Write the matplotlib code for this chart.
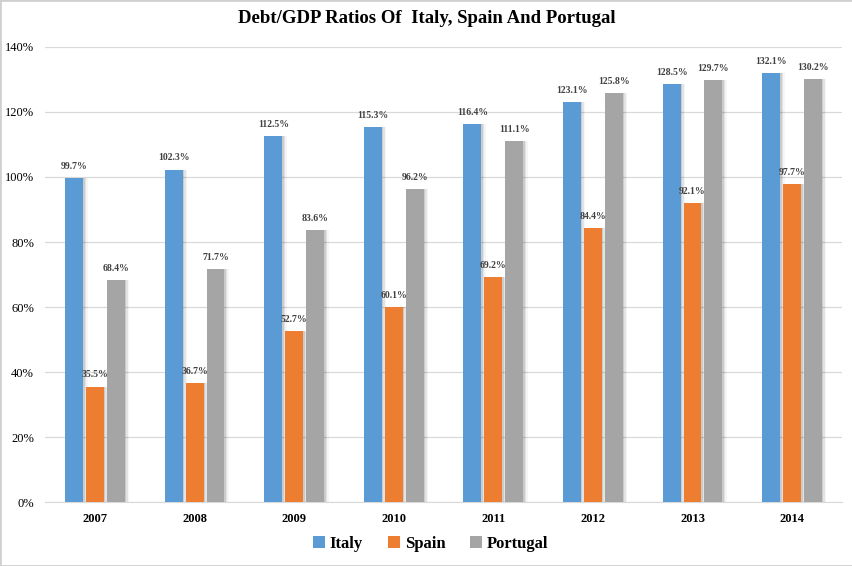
import matplotlib
matplotlib.use("Agg")
import matplotlib.pyplot as plt
import numpy as np
from matplotlib.patches import Rectangle

years = ["2007", "2008", "2009", "2010", "2011", "2012", "2013", "2014"]
italy = [99.7, 102.3, 112.5, 115.3, 116.4, 123.1, 128.5, 132.1]
spain = [35.5, 36.7, 52.7, 60.1, 69.2, 84.4, 92.1, 97.7]
portugal = [68.4, 71.7, 83.6, 96.2, 111.1, 125.8, 129.7, 130.2]

names = ["Italy", "Spain", "Portugal"]
colors = ["#5B9BD5", "#ED7D31", "#A5A5A5"]

plt.rcParams['font.family'] = ['Liberation Serif', 'DejaVu Serif']

fig = plt.figure(figsize=(8.53, 5.66), dpi=100)
ax = fig.add_axes([0.053, 0.113, 0.934, 0.804])

x = np.arange(len(years))
w = 0.18
step = 0.21
for i, (vals, c, n) in enumerate(zip([italy, spain, portugal], colors, names)):
    pos = x + (i - 1) * step
    # soft shadow, a few layers
    for k, a in [(0.015, 0.10), (0.03, 0.07), (0.045, 0.04)]:
        ax.bar(pos + k, vals, w, color="#000000", alpha=a, zorder=2, lw=0)
    bars = ax.bar(pos, vals, w, color=c, label=n, zorder=3)
    for b, v in zip(bars, vals):
        ax.text(b.get_x() + b.get_width() / 2, v + 2.2, "%.1f%%" % v,
                ha="center", va="bottom", fontsize=7, color="#404040", fontweight="bold")

ax.set_ylim(0, 140)
ax.set_xlim(-0.5, 7.5)
ax.set_yticks(range(0, 141, 20))
ax.set_yticklabels(["%d%%" % t for t in range(0, 141, 20)], fontsize=9)
ax.set_xticks(x)
ax.set_xticklabels(years, fontsize=9, fontweight="bold")
ax.yaxis.grid(True, color="#D9D9D9", lw=0.9, zorder=0)
ax.set_axisbelow(True)
for s in ["top", "right", "left"]:
    ax.spines[s].set_visible(False)
ax.spines["bottom"].set_color("#D9D9D9")
ax.tick_params(axis="both", length=0, pad=8)

fig.text(0.5, 0.968, "Debt/GDP Ratios Of  Italy, Spain And Portugal", ha="center", va="center",
         fontsize=13.5, fontweight="bold")

fig.legend(*ax.get_legend_handles_labels(), loc="center", bbox_to_anchor=(0.505, 0.039), ncol=3,
           frameon=False, prop={"size": 12, "weight": "bold"}, handlelength=0.7, handleheight=0.7,
           handletextpad=0.3, columnspacing=1.5)

fig.patches.append(Rectangle((0, 0), 1, 1, transform=fig.transFigure, fill=False,
                             edgecolor="#D0D0D0", lw=2))

fig.savefig("out.png", dpi=100)
